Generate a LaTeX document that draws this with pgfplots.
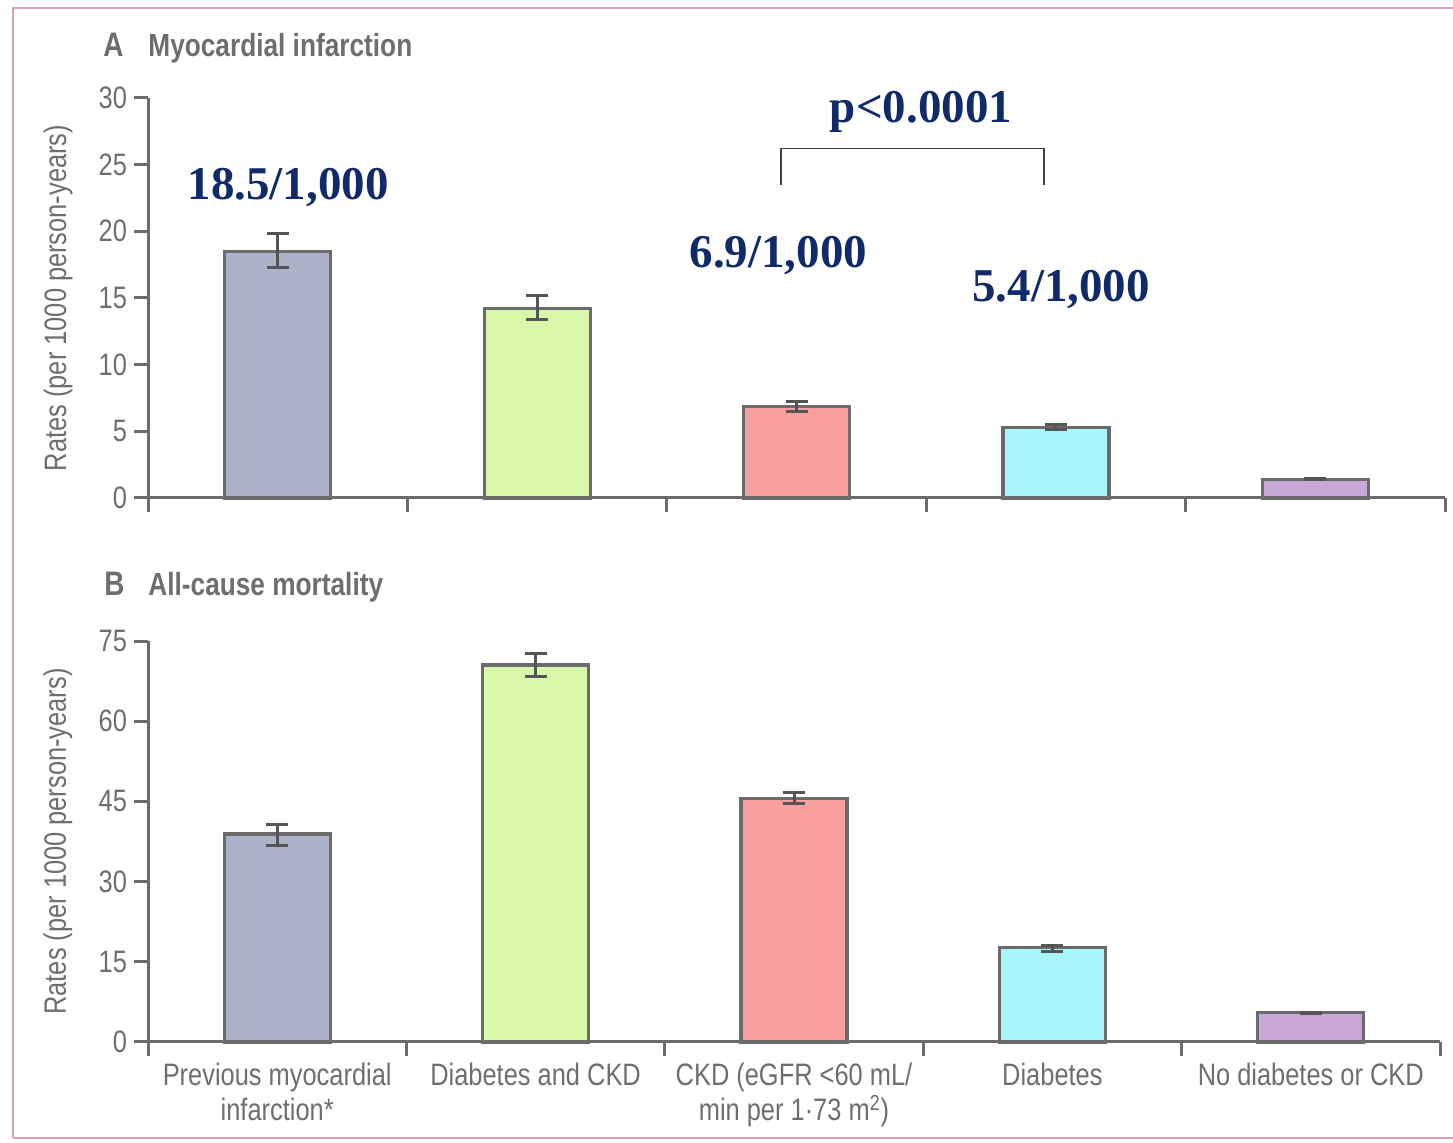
\documentclass[border=0pt]{standalone}
\usepackage{pgfplots}
\pgfplotsset{compat=1.18}
\usepackage{fontspec}
\setmainfont{Liberation Sans}[FakeStretch=0.82]
\newfontfamily\annfont{Liberation Serif}
\definecolor{axgray}{HTML}{6B6B6B}
\definecolor{txtgray}{HTML}{6E6E6E}
\definecolor{errgray}{HTML}{555555}
\definecolor{pinkline}{HTML}{D9A3AB}
\definecolor{navy}{HTML}{102A6A}
\definecolor{cA}{HTML}{ACB2C8}
\definecolor{cB}{HTML}{DAF8AA}
\definecolor{cC}{HTML}{F8A0A0}
\definecolor{cD}{HTML}{A8F6FA}
\definecolor{cE}{HTML}{C8A8D8}
\pgfplotsset{
  panel/.style={
    scale only axis, xmin=0, xmax=5, ymin=0,
    axis x line=bottom, axis y line=left,
    axis line style={-, axgray, line width=1.5pt},
    tick align=outside, major tick length=7pt,
    tick style={axgray, line width=1.5pt},
    xtick={0,...,5},
    tick label style={font=\fontsize{15.5}{17.5}\selectfont, text=txtgray},
    /pgf/number format/assume math mode=true,
    ylabel={Rates (per 1000 person-years)},
    ylabel style={font=\fontsize{15.5}{17.5}\selectfont, text=txtgray, anchor=center},
    clip=false,
  },
  bar/.style={ybar, bar shift=0pt, bar width=53pt, fill=#1, draw=axgray, line width=1.6pt,
    error bars/.cd, y dir=both, y explicit,
    error bar style={errgray, line width=1.5pt},
    error mark options={rotate=90, errgray, mark size=5.5pt, line width=1.5pt}},
}
\newcommand{\ann}{\annfont\bfseries\fontsize{23.5}{28}\selectfont}
\begin{document}
\begin{tikzpicture}
\useasboundingbox (0pt,0pt) rectangle (726.5pt,571.5pt);
\draw[pinkline, line width=1pt] (6.5pt,2.5pt) -- (6.5pt,567.5pt) -- (726.5pt,567.5pt);
\draw[pinkline, line width=1pt] (6.5pt,2.5pt) -- (726.5pt,2.5pt);
% Panel titles
\node[anchor=base west, inner sep=0pt, text=txtgray, font=\fontsize{17}{20}\selectfont\bfseries] at (51.5pt,543pt) {A};
\node[anchor=base west, inner sep=0pt, text=txtgray, font=\fontsize{16}{19}\selectfont\bfseries] at (74pt,543pt) {Myocardial infarction};
\node[anchor=base west, inner sep=0pt, text=txtgray, font=\fontsize{17}{20}\selectfont\bfseries] at (52pt,273.5pt) {B};
\node[anchor=base west, inner sep=0pt, text=txtgray, font=\fontsize{16}{19}\selectfont\bfseries] at (74pt,273.5pt) {All-cause mortality};

% Panel A
\begin{axis}[panel, at={(74pt,322.5pt)}, anchor=south west, width=648.5pt, height=200pt,
  ymax=30, ytick={0,5,...,30}, xticklabels={},
  ylabel style={at={(axis description cs:-0.0694,0.5)}}]
\addplot[bar=cA] coordinates {(0.5,18.5) += (0,1.3) -= (0,1.2)};
\addplot[bar=cB] coordinates {(1.5,14.2) += (0,1.0) -= (0,0.85)};
\addplot[bar=cC] coordinates {(2.5,6.85) += (0,0.35) -= (0,0.4)};
\addplot[bar=cD] coordinates {(3.5,5.3) += (0,0.2) -= (0,0.15)};
\addplot[bar=cE] coordinates {(4.5,1.4) += (0,0.05) -= (0,0.05)};
\node[text=navy, font=\ann] at (axis cs:0.54,23.25) {18.5/1,000};
\node[text=navy, font=\ann] at (axis cs:2.43,18.2) {6.9/1,000};
\node[text=navy, font=\ann] at (axis cs:3.52,15.6) {5.4/1,000};
\node[text=navy, font=\ann] at (axis cs:2.98,28.95) {p<0.0001};
\draw[black!75, line width=0.8pt] (axis cs:2.44,23.5) |- (axis cs:3.454,26.2) -- (axis cs:3.454,23.5);
\end{axis}

% Panel B
\begin{axis}[panel, at={(74pt,50.5pt)}, anchor=south west, width=646pt, height=200.5pt,
  ymax=75, ytick={0,15,...,75},
  x tick label as interval,
  xticklabels={{Previous myocardial\\infarction*},{Diabetes and CKD},{CKD (eGFR <60 mL/\\min per 1·73 m\textsuperscript{2})},{Diabetes},{No diabetes or CKD}},
  xticklabel style={align=center},
  ylabel style={at={(axis description cs:-0.0697,0.5)}}]
\addplot[bar=cA] coordinates {(0.5,38.9) += (0,1.7) -= (0,2.1)};
\addplot[bar=cB] coordinates {(1.5,70.5) += (0,2.1) -= (0,2.2)};
\addplot[bar=cC] coordinates {(2.5,45.6) += (0,1.0) -= (0,0.9)};
\addplot[bar=cD] coordinates {(3.5,17.6) += (0,0.5) -= (0,0.6)};
\addplot[bar=cE] coordinates {(4.5,5.5) += (0,0.1) -= (0,0.1)};
\end{axis}
\end{tikzpicture}
\end{document}
